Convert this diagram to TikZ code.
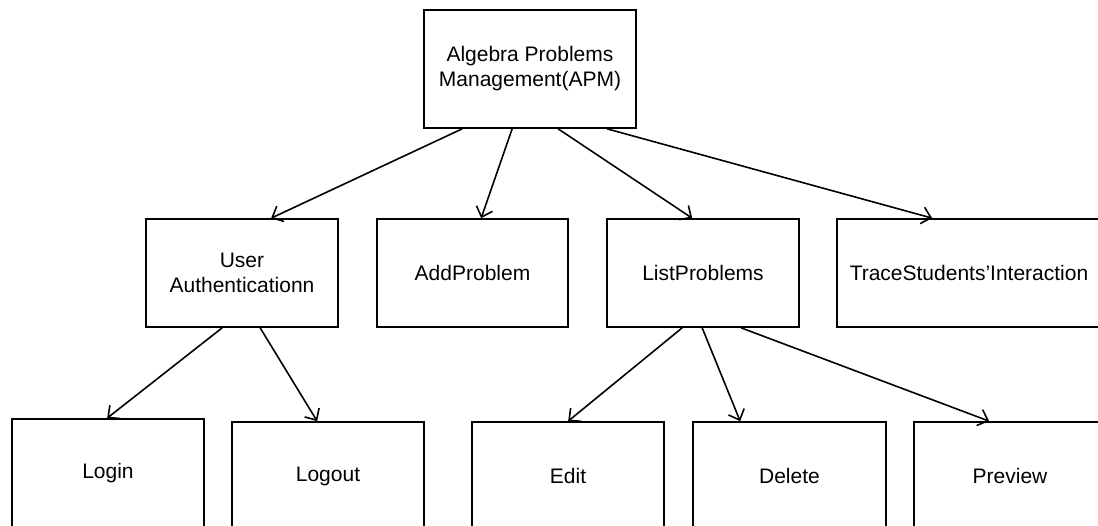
\documentclass[tikz,border=0pt]{standalone}
\usepackage{fontspec}
\setmainfont{Liberation Sans}
\usetikzlibrary{arrows.meta}
\begin{document}
\begin{tikzpicture}[x=1pt,y=-1pt,
  box/.style={draw=black,line width=1.7pt,fill=white,rectangle,align=center,
    inner sep=0pt,font=\fontsize{21}{25}\selectfont},
  arr/.style={draw=black,line width=1.6pt,-{Straight Barb[length=9pt,width=17pt,line width=1.6pt]}}]
  \useasboundingbox (0,0) rectangle (1098,525);
  \fill[white] (0,0) rectangle (1098,525);
  \clip (0,0) rectangle (1098,525);

  % root
  \node[box,minimum width=212pt,minimum height=118pt] (apm) at (530,69)
    {Algebra Problems\\Management(APM)};

  % second level
  \node[box,minimum width=192pt,minimum height=108pt] (ua) at (242,273)
    {User\\Authenticationn};
  \node[box,minimum width=191pt,minimum height=108pt] (add) at (472.5,273)
    {AddProblem};
  \node[box,minimum width=192pt,minimum height=108pt] (list) at (703,273)
    {ListProblems};
  \node[box,minimum width=264pt,minimum height=108pt] (trace) at (969,273)
    {TraceStudents'Interaction};

  % third level
  \node[box,minimum width=192pt,minimum height=108pt] (login) at (108,473) {Login};
  \node[box,minimum width=192pt,minimum height=108pt] (logout) at (328,476) {Logout};
  \node[box,minimum width=192pt,minimum height=108pt] (edit) at (568,476) {Edit};
  \node[box,minimum width=193pt,minimum height=108pt] (delete) at (789.5,476) {Delete};
  \node[box,minimum width=192pt,minimum height=108pt] (preview) at (1010,476) {Preview};

  % connectors
  \draw[arr] ([xshift=39pt]apm.south west) -- ([xshift=126pt]ua.north west);
  \draw[arr] ([xshift=89pt]apm.south west) -- ([xshift=105pt]add.north west);
  \draw[arr] ([xshift=135pt]apm.south west) -- ([xshift=86pt]list.north west);
  \draw[arr] ([xshift=184pt]apm.south west) -- ([xshift=96pt]trace.north west);

  \draw[arr] ([xshift=77pt]ua.south west) -- ([xshift=96pt]login.north west);
  \draw[arr] ([xshift=115pt]ua.south west) -- ([xshift=86pt]logout.north west);

  \draw[arr] ([xshift=76pt]list.south west) -- ([xshift=97pt]edit.north west);
  \draw[arr] ([xshift=96pt]list.south west) -- ([xshift=48pt]delete.north west);
  \draw[arr] ([xshift=135pt]list.south west) -- ([xshift=76pt]preview.north west);
\end{tikzpicture}
\end{document}
